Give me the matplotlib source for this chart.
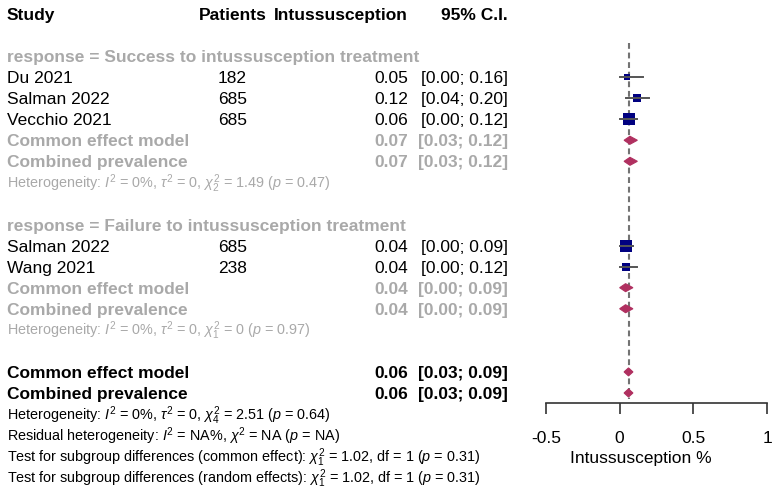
import matplotlib
matplotlib.use('Agg')
import matplotlib.pyplot as plt

plt.rcParams['font.family'] = ['Liberation Sans', 'DejaVu Sans']
plt.rcParams['mathtext.fontset'] = 'custom'
plt.rcParams['mathtext.rm'] = 'Liberation Sans'
plt.rcParams['mathtext.it'] = 'Liberation Sans:italic'
plt.rcParams['mathtext.bf'] = 'Liberation Sans:bold'

# subgroup 1
g1_name = 'response = Success to intussusception treatment'
g1_studies = ['Du 2021', 'Salman 2022', 'Vecchio 2021']
g1_n = [182, 685, 685]
g1_est = [0.05, 0.12, 0.06]
g1_lo = [0.00, 0.04, 0.00]
g1_hi = [0.16, 0.20, 0.12]
g1_w = [7, 14, 32]
g1_common = [0.07, 0.03, 0.12]
g1_random = [0.07, 0.03, 0.12]
g1_het = r'Heterogeneity: $I^2$ = 0%, $\tau^2$ = 0, $\chi^2_2$ = 1.49 ($p$ = 0.47)'

# subgroup 2
g2_name = 'response = Failure to intussusception treatment'
g2_studies = ['Salman 2022', 'Wang 2021']
g2_n = [685, 238]
g2_est = [0.04, 0.04]
g2_lo = [0.00, 0.00]
g2_hi = [0.09, 0.12]
g2_w = [32, 15]
g2_common = [0.04, 0.00, 0.09]
g2_random = [0.04, 0.00, 0.09]
g2_het = r'Heterogeneity: $I^2$ = 0%, $\tau^2$ = 0, $\chi^2_1$ = 0 ($p$ = 0.97)'

# overall
all_common = [0.06, 0.03, 0.09]
all_random = [0.06, 0.03, 0.09]
all_notes = [
    r'Heterogeneity: $I^2$ = 0%, $\tau^2$ = 0, $\chi^2_4$ = 2.51 ($p$ = 0.64)',
    r'Residual heterogeneity: $I^2$ = NA%, $\chi^2$ = NA ($p$ = NA)',
    r'Test for subgroup differences (common effect): $\chi^2_1$ = 1.02, df = 1 ($p$ = 0.31)',
    r'Test for subgroup differences (random effects): $\chi^2_1$ = 1.02, df = 1 ($p$ = 0.31)',
]
xticks = [-0.5, 0, 0.5, 1]
xticklabels = ['-0.5', '0', '0.5', '1']

GREY = '#a9a9a9'
SQ = '#000080'
DIA = '#b03060'
FS = 12.5
FS_S = 10.4

fig = plt.figure(figsize=(7.74, 4.95), dpi=100)
tax = fig.add_axes([0, 0, 1, 1])
tax.set_xlim(0, 774)
tax.set_ylim(22.845, -0.66)
tax.axis('off')

fax = fig.add_axes([546 / 774, 1 - 403 / 495, 221 / 774, 403 / 495])
fax.set_xlim(-0.5, 1)
fax.set_ylim(18.476, -0.66)
fax.patch.set_visible(False)
for s in ['top', 'left', 'right']:
    fax.spines[s].set_visible(False)
fax.spines['bottom'].set_color('#333333')
fax.spines['bottom'].set_linewidth(1.2)
fax.set_yticks([])
fax.set_xticks(xticks)
fax.set_xticklabels(xticklabels)
fax.tick_params(axis='x', length=7.9, width=1.2, color='#333333', pad=12.5, labelsize=FS)
fax.set_xlabel('Intussusception %', fontsize=FS)
fax.xaxis.set_label_coords(0.43, -0.118)

OFF = 0.29
OFF_S = 0.27


def put(x, k, s, ha='left', bold=False, color='black', fs=FS):
    off = OFF if fs == FS else OFF_S
    tax.text(x, k + off, s, ha=ha, va='baseline', fontsize=fs,
             fontweight='bold' if bold else 'normal', color=color)


def values(k, est, lo, hi, bold=False, color='black'):
    put(408, k, f'{est:.2f}', ha='right', bold=bold, color=color)
    put(508, k, f'[{lo:.2f}; {hi:.2f}]', ha='right', bold=bold, color=color)


def diamond(k, est, lo, hi):
    h = 0.19
    fax.fill([lo, est, hi, est], [k, k - h, k, k + h], color=DIA, lw=0.8, clip_on=False, zorder=4)


def study(k, name, n, est, lo, hi, w):
    put(7, k, name)
    put(247, k, str(n), ha='right')
    values(k, est, lo, hi)
    side = 2.1 * w ** 0.5 * 0.72
    fax.scatter([est], [k], marker='s', s=side ** 2, color=SQ, lw=0, clip_on=False, zorder=4)
    fax.plot([lo, hi], [k, k], color='#555555', lw=1.4, clip_on=False, zorder=5)


def pooled(k, lab, vals, color):
    put(7, k, lab, bold=True, color=color)
    values(k, *vals, bold=True, color=color)
    diamond(k, *vals)


# header
put(7, 0, 'Study', bold=True)
put(199, 0, 'Patients', bold=True)
put(408, 0, 'Intussusception', ha='right', bold=True)
put(508, 0, '95% C.I.', ha='right', bold=True)

# reference line (common effect estimate)
fax.plot([all_common[0]] * 2, [1.38, 18.3], color='#737373', lw=1.5,
         ls=(0, (2.8, 1.8)), clip_on=False, zorder=2)

k = 2
for name, studies, ns, ests, los, his, ws, com, ran, het in [
        (g1_name, g1_studies, g1_n, g1_est, g1_lo, g1_hi, g1_w, g1_common, g1_random, g1_het),
        (g2_name, g2_studies, g2_n, g2_est, g2_lo, g2_hi, g2_w, g2_common, g2_random, g2_het)]:
    put(7, k, name, bold=True, color=GREY)
    k += 1
    for i in range(len(studies)):
        study(k, studies[i], ns[i], ests[i], los[i], his[i], ws[i])
        k += 1
    pooled(k, 'Common effect model', com, GREY)
    k += 1
    pooled(k, 'Combined prevalence', ran, GREY)
    k += 1
    put(7, k, het, color=GREY, fs=FS_S)
    k += 2

pooled(k, 'Common effect model', all_common, 'black')
k += 1
pooled(k, 'Combined prevalence', all_random, 'black')
k += 1
for note in all_notes:
    put(7, k, note, fs=FS_S)
    k += 1

fig.savefig('out.png', dpi=100)
